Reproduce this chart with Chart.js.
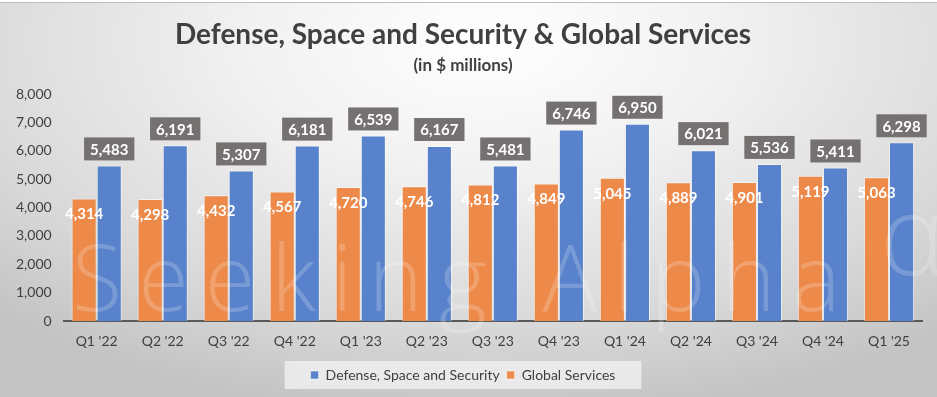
<!DOCTYPE html>
<html>
<head>
<meta charset="utf-8">
<script src="https://cdn.jsdelivr.net/npm/chart.js@4"></script>
<style>
  html, body { margin: 0; padding: 0; }
  body { width: 937px; height: 397px; overflow: hidden; background: #fff; }
  #strip {
    position: absolute; left: 0; top: 0; width: 937px; height: 2px;
    background: #fff; border-bottom: 1px solid #bdbdbd;
  }
  #wrap {
    position: absolute; left: 0; top: 3px; width: 937px; height: 394px;
    background: radial-gradient(ellipse 75% 95% at 52% 10%, #ffffff 0%, #f1f1f1 35%, #d9d9d9 75%, #c4c4c4 100%);
  }
</style>
</head>
<body>
<div id="strip"></div>
<div id="wrap"><canvas id="chart" width="937" height="394"></canvas></div>
<script>
// ── Dados ──
const quarters = ["Q1 '22", "Q2 '22", "Q3 '22", "Q4 '22", "Q1 '23", "Q2 '23", "Q3 '23",
  "Q4 '23", "Q1 '24", "Q2 '24", "Q3 '24", "Q4 '24", "Q1 '25"];
const globalServices = [4314, 4298, 4432, 4567, 4720, 4746, 4812, 4849, 5045, 4889, 4901, 5119, 5063];
const defenseSpace = [5483, 6191, 5307, 6181, 6539, 6167, 5481, 6746, 6950, 6021, 5536, 5411, 6298];
const yTicks = [0, 1000, 2000, 3000, 4000, 5000, 6000, 7000, 8000];

const FONT = "Lato, 'Open Sans', sans-serif";
const fmt = (v) => v.toLocaleString("en-US");

// marca d'água (fica por cima das barras, bem transparente)
const watermark = {
  id: "watermark",
  afterDatasetsDraw(chart) {
    const ctx = chart.ctx;
    ctx.save();
    ctx.font = "300 92px 'Open Sans', sans-serif";
    ctx.letterSpacing = "16px";
    ctx.textAlign = "left";
    ctx.textBaseline = "alphabetic";
    ctx.fillStyle = "rgba(255,255,255,0.2)";
    ctx.fillText("Seeking Alpha", 72, 308);
    ctx.letterSpacing = "0px";
    ctx.font = "300 110px 'Open Sans', sans-serif";
    ctx.fillText("\u03b1", 880, 272);
    ctx.restore();
  },
};

// rótulos dos valores (laranja dentro da barra, azul numa caixa cinza acima)
const valueLabels = {
  id: "valueLabels",
  afterDatasetsDraw(chart) {
    const ctx = chart.ctx;
    ctx.save();
    ctx.font = "bold 15px " + FONT;
    ctx.textAlign = "center";
    ctx.textBaseline = "middle";
    chart.getDatasetMeta(0).data.forEach((bar, i) => {
      ctx.fillStyle = "#ffffff";
      ctx.fillText(fmt(globalServices[i]), bar.x, bar.y + 16);
    });
    chart.getDatasetMeta(1).data.forEach((bar, i) => {
      const txt = fmt(defenseSpace[i]);
      const w = ctx.measureText(txt).width + 12;
      const h = 23;
      ctx.fillStyle = "#767171";
      ctx.fillRect(bar.x - w / 2, bar.y - 5 - h, w, h);
      ctx.fillStyle = "#ffffff";
      ctx.fillText(txt, bar.x, bar.y - 5 - h / 2 + 1);
    });
    ctx.restore();
  },
};

// fundo da legenda
const legendBox = {
  id: "legendBox",
  beforeDraw(chart) {
    const lg = chart.legend;
    if (!lg || !lg.legendHitBoxes || !lg.legendHitBoxes.length) return;
    const hb = lg.legendHitBoxes;
    const left = Math.min(...hb.map((b) => b.left)) - 26;
    const right = Math.max(...hb.map((b) => b.left + b.width)) + 26;
    const cy = hb[0].top + hb[0].height / 2;
    const ctx = chart.ctx;
    ctx.save();
    ctx.fillStyle = "rgba(238,238,238,0.85)";
    ctx.fillRect(left, cy - 14, right - left, 28);
    ctx.restore();
  },
};

new Chart(document.getElementById("chart").getContext("2d"), {
  type: "bar",
  data: {
    labels: quarters,
    datasets: [
      {
        label: "Global Services",
        data: globalServices,
        backgroundColor: "#ED8A4A",
        borderColor: "rgba(255,255,255,0.55)",
        borderWidth: 1,
        barPercentage: 1,
        categoryPercentage: 0.76,
      },
      {
        label: "Defense, Space and Security",
        data: defenseSpace,
        backgroundColor: "#5882CB",
        borderColor: "rgba(255,255,255,0.55)",
        borderWidth: 1,
        barPercentage: 1,
        categoryPercentage: 0.76,
      },
    ],
  },
  options: {
    responsive: false,
    animation: false,
    layout: { padding: { left: 4, right: 15, top: 0, bottom: 5 } },
    plugins: {
      title: {
        display: true,
        text: "Defense, Space and Security & Global Services",
        color: "#404040",
        font: { family: FONT, size: 28, weight: "bold" },
        padding: { top: 15, bottom: 4 },
      },
      subtitle: {
        display: true,
        text: "(in $ millions)",
        color: "#404040",
        font: { family: FONT, size: 17, weight: "bold" },
        padding: { top: 0, bottom: 18 },
      },
      legend: {
        position: "bottom",
        reverse: true,
        labels: {
          boxWidth: 8,
          boxHeight: 8,
          padding: 7,
          color: "#404040",
          font: { family: FONT, size: 14 },
        },
      },
      tooltip: { enabled: false },
    },
    scales: {
      x: {
        grid: { display: false, drawTicks: false },
        border: { color: "#595959", width: 2 },
        ticks: { color: "#404040", padding: 13, font: { family: FONT, size: 14, lineHeight: 1 } },
      },
      y: {
        min: 0,
        max: 8000,
        afterBuildTicks: (axis) => { axis.ticks = yTicks.map((v) => ({ value: v })); },
        grid: { display: false, drawTicks: false },
        border: { display: false },
        ticks: {
          color: "#404040",
          padding: 12,
          font: { family: FONT, size: 14 },
          callback: (v) => fmt(v),
        },
      },
    },
  },
  plugins: [legendBox, watermark, valueLabels],
});
</script>
</body>
</html>
